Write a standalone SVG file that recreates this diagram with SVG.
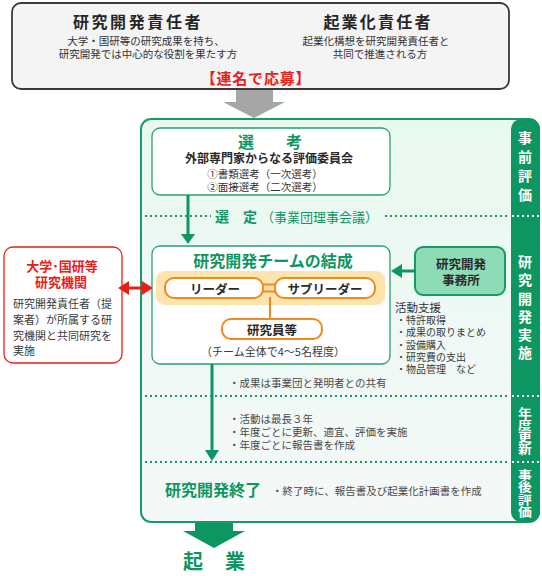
<svg xmlns="http://www.w3.org/2000/svg" width="542" height="576" viewBox="0 0 542 576">
<defs>
<linearGradient id="pg" x1="0" y1="0" x2="0" y2="1">
<stop offset="0" stop-color="#e9f9f1"/>
<stop offset="1" stop-color="#f4f8f8"/>
</linearGradient>
<style>
text{font-family:'Noto Sans CJK JP','Noto Sans',sans-serif;dominant-baseline:central}
.c{text-anchor:middle}
.h1{font-size:16px;font-weight:bold;fill:#262626}
.sub{font-size:10.5px;fill:#333}
.red{fill:#e8201a;font-weight:bold}
.grn{fill:#0e9662;font-weight:bold}
.dk{fill:#2a2a2a;font-weight:bold}
.bd{font-size:11px;fill:#3a3a3a}
.sp{font-size:10px;fill:#3a3a3a}
.gy{font-size:10.5px;fill:#4a4a4a}
.bar{font-weight:bold;fill:#fff;text-anchor:middle;writing-mode:vertical-rl}
.dot{stroke:#179a64;stroke-width:2;stroke-dasharray:2 3;fill:none}
.dotw{stroke:#fff;stroke-width:2;stroke-dasharray:2 3;fill:none}
.box{fill:#fff;stroke:#2aa06a;stroke-width:1.3}
.ob{fill:#fff;stroke:#f08a1c;stroke-width:2}
</style>
</defs>
<rect width="542" height="576" fill="#fff"/>

<g id="top-box">
<rect x="12" y="3" width="497" height="86" rx="9" fill="#f4f4f4" stroke="#3a3a3a" stroke-width="1.8"/>
<text class="c h1" x="138" y="21" letter-spacing="2.6">研究開発責任者</text>
<text class="c sub" x="146" y="40">大学・国研等の研究成果を持ち、</text>
<text class="c sub" x="148" y="53">研究開発では中心的な役割を果たす方</text>
<text class="c h1" x="378" y="21" letter-spacing="2.2">起業化責任者</text>
<text class="c sub" x="376" y="40">起業化構想を研究開発責任者と</text>
<text class="c sub" x="380" y="53">共同で推進される方</text>
<text class="c red" x="256" y="77" font-size="15" letter-spacing="0.8">【連名で応募】</text>
</g>

<g id="panel">
<rect x="141" y="119" width="398" height="403" rx="10" fill="url(#pg)" stroke="#179a64" stroke-width="2"/>
<rect x="511" y="119" width="29" height="403" rx="10" fill="#0e9662"/>
</g>

<g id="phase-labels">
<text class="bar" x="525" y="169" font-size="14" letter-spacing="5">事前評価</text>
<text class="bar" x="525" y="309.5" font-size="14" letter-spacing="4.2">研究開発実施</text>
<text class="bar" transform="translate(525,431) scale(1.15,1)" x="0" y="0" font-size="12">年度更新</text>
<text class="bar" transform="translate(525,494) scale(1.15,1)" x="0" y="0" font-size="12" letter-spacing="0.4">事後評価</text>
</g>

<g id="dividers">
<line class="dot" x1="145" y1="216" x2="211" y2="216"/>
<line class="dot" x1="385" y1="216" x2="510" y2="216"/>
<line class="dotw" x1="512" y1="216" x2="540" y2="216"/>
<line class="dot" x1="145" y1="396" x2="510" y2="396"/>
<line class="dotw" x1="512" y1="396" x2="540" y2="396"/>
<line class="dot" x1="145" y1="462" x2="510" y2="462"/>
<line class="dotw" x1="512" y1="462" x2="540" y2="462"/>
</g>

<g id="senko">
<rect class="box" x="152" y="128" width="238" height="67" rx="8"/>
<text class="c grn" x="270" y="141" font-size="16">選　　考</text>
<text class="c dk" x="269" y="157.5" font-size="12">外部専門家からなる評価委員会</text>
<text class="c sub" x="265" y="173">①書類選考（一次選考）</text>
<text class="c sub" x="265" y="186">②面接選考（二次選考）</text>
</g>

<g id="sentei">
<text class="grn" x="215" y="216" font-size="14">選　定</text>
<text x="261" y="216" font-size="13" fill="#0e9662">（事業団理事会議）</text>
</g>

<g id="team">
<rect class="box" x="152" y="246" width="238" height="118" rx="8"/>
<text class="c grn" x="273" y="260" font-size="16">研究開発チームの結成</text>
<rect x="156" y="271" width="229" height="34" rx="9" fill="#fde3ad"/>
<line x1="263" y1="284.5" x2="275" y2="284.5" stroke="#f08a1c" stroke-width="2"/>
<line x1="263" y1="291.5" x2="275" y2="291.5" stroke="#f08a1c" stroke-width="2"/>
<line x1="270" y1="297" x2="270" y2="319" stroke="#f08a1c" stroke-width="2"/>
<g id="leader">
<rect class="ob" x="165" y="278" width="98" height="20" rx="9"/>
<text class="c dk" x="215" y="288" font-size="12.5">リーダー</text>
</g>
<g id="subleader">
<rect class="ob" x="275" y="278" width="100" height="20" rx="9"/>
<text class="c dk" x="325" y="288" font-size="12.5">サブリーダー</text>
</g>
<g id="researchers">
<rect class="ob" x="222" y="319" width="100" height="20" rx="9"/>
<text class="c dk" x="272" y="329" font-size="12.5">研究員等</text>
</g>
<text class="c bd" x="273" y="351">（チーム全体で4～5名程度）</text>
</g>

<g id="university">
<rect x="4" y="247" width="118" height="116" rx="9" fill="#fff" stroke="#e8201a" stroke-width="1.3"/>
<text class="c red" x="62" y="265" font-size="13">大学･国研等</text>
<text class="c red" x="61" y="281" font-size="13">研究機関</text>
<text class="bd" x="13" y="303">研究開発責任者（提</text>
<text class="bd" x="13" y="319">案者）が所属する研</text>
<text class="bd" x="13" y="335">究機関と共同研究を</text>
<text class="bd" x="13" y="350">実施</text>
</g>

<g id="office">
<rect x="415" y="247" width="90" height="48" rx="8" fill="#8edbb7" stroke="#179a64" stroke-width="2"/>
<text class="c dk" x="461" y="263" font-size="12.5">研究開発</text>
<text class="c dk" x="461" y="279" font-size="12.5">事務所</text>
</g>

<g id="support">
<text x="395" y="306.5" font-size="11.5" fill="#333">活動支援</text>
<text class="sp" x="396" y="319.5">・特許取得</text>
<text class="sp" x="396" y="331.8">・成果の取りまとめ</text>
<text class="sp" x="396" y="344.1">・設備購入</text>
<text class="sp" x="396" y="356.4">・研究費の支出</text>
<text class="sp" x="396" y="368.7">・物品管理　など</text>
</g>

<g id="notes">
<text class="gy" x="229" y="382">・成果は事業団と発明者との共有</text>
<text class="gy" x="229" y="418">・活動は最長３年</text>
<text class="gy" x="229" y="431">・年度ごとに更新、適宜、評価を実施</text>
<text class="gy" x="229" y="444">・年度ごとに報告書を作成</text>
</g>

<g id="end">
<text class="grn" x="165" y="489" font-size="16">研究開発終了</text>
<text class="gy" x="272" y="490" font-size="11">・終了時に、報告書及び起業化計画書を作成</text>
</g>

<g id="kigyo">
<text class="grn" x="183" y="560" font-size="20" letter-spacing="1">起　業</text>
</g>

<g id="connectors">
<polygon points="236,90 273,90 273,102 285,102 254,118 223,102 236,102" fill="#a6a6a6"/>
<line x1="188" y1="195" x2="188" y2="236" stroke="#0e9662" stroke-width="3"/>
<polygon points="181,234 195,234 188,244" fill="#0e9662"/>
<line x1="212" y1="364" x2="212" y2="452" stroke="#0e9662" stroke-width="3"/>
<polygon points="205,450 219,450 212,461" fill="#0e9662"/>
<line x1="400" y1="271" x2="415" y2="271" stroke="#0e9662" stroke-width="3"/>
<polygon points="391,271 402,264 402,278" fill="#0e9662"/>
<line x1="126" y1="288" x2="146" y2="288" stroke="#e8201a" stroke-width="3"/>
<polygon points="118,288 129,281 129,295" fill="#e8201a"/>
<polygon points="153,288 142,281 142,295" fill="#e8201a"/>
<polygon points="195,523 233,523 233,531 245,531 214,548 183,531 195,531" fill="#0e9662"/>
</g>
</svg>
